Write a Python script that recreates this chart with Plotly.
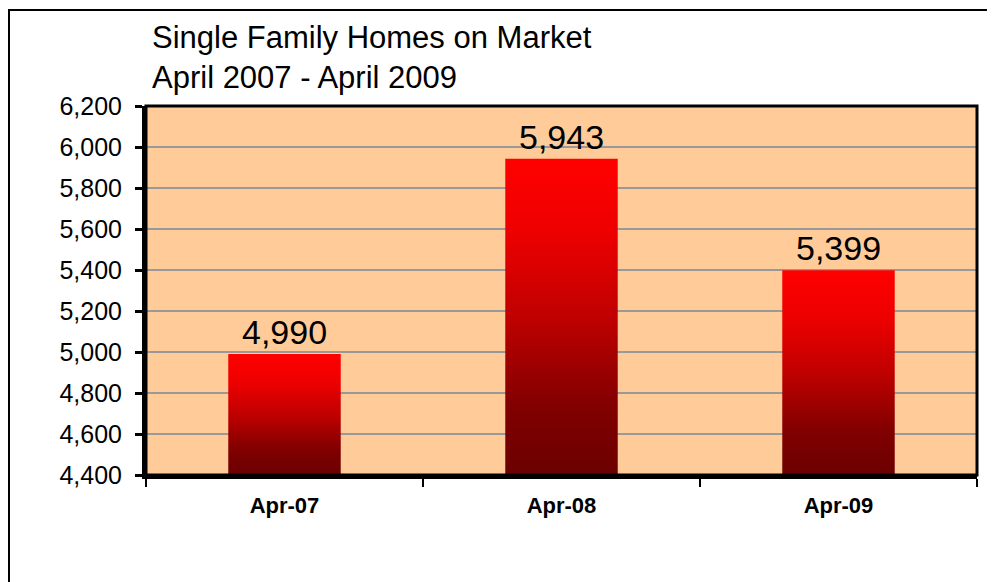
import plotly.graph_objects as go

# ---- data ----
categories = ["Apr-07", "Apr-08", "Apr-09"]
homes_on_market = [4990, 5943, 5399]
y_min, y_max, y_step = 4400, 6200, 200
title_lines = ["Single Family Homes on Market", "April 2007 - April 2009"]

# ---- layout constants (pixels; page body adds an 8px offset) ----
W, H = 987, 574
L, T, R, B = 138, 98, 18, 107
plot_w, plot_h = W - L - R, H - T - B
bar_w = 0.406
FONT = "Liberation Sans, Arial, sans-serif"

grad = [[0.0, "#6B0000"], [0.22, "#820000"], [0.5, "#C00000"],
        [0.77, "#EE0000"], [1.0, "#FF0000"]]

fig = go.Figure()
for i, (cat, v) in enumerate(zip(categories, homes_on_market)):
    x0, x1 = i - bar_w / 2, i + bar_w / 2
    fig.add_trace(go.Scatter(
        x=[x0, x1, x1, x0, x0], y=[y_min, y_min, v, v, y_min],
        mode="lines", line=dict(width=0), fill="toself",
        fillgradient=dict(type="vertical", colorscale=grad),
        hoverinfo="skip", showlegend=False, name=cat))
    fig.add_annotation(x=i, y=v, text=f"{v:,}", showarrow=False,
                       xanchor="center", yanchor="bottom", yshift=1,
                       font=dict(family=FONT, size=34, color="black"))

n = len(categories)
fig.update_xaxes(
    range=[-0.5, n - 0.5], tickmode="array",
    tickvals=list(range(n)), ticktext=categories,
    ticks="", showgrid=False, zeroline=False,
    showline=True, linecolor="black", linewidth=4,
    tickfont=dict(family=FONT, size=22, color="black", weight="bold"),
    ticklabelstandoff=8,
    minor=dict(tickvals=[k - 0.5 for k in range(n + 1)], ticks="outside",
               ticklen=8, tickwidth=2, tickcolor="black", showgrid=False),
)
fig.update_yaxes(
    range=[y_min, y_max], tickmode="linear", tick0=y_min, dtick=y_step,
    tickformat=",", ticks="outside", ticklen=7, tickwidth=3, tickcolor="black",
    showgrid=True, gridcolor="#999999", gridwidth=2, zeroline=False,
    showline=True, linecolor="black", linewidth=4,
    tickfont=dict(family=FONT, size=25, color="black"),
    ticklabelstandoff=8,
)

# plot-area frame (top and right edges)
fig.add_shape(type="rect", xref="paper", yref="paper", x0=0, x1=1, y0=0, y1=1,
              line=dict(color="black", width=3), layer="above")
# outer chart border
fig.add_shape(type="rect", xref="paper", yref="paper",
              x0=(1 - L) / plot_w, x1=(W + 20 - L) / plot_w,
              y0=-(B + 20) / plot_h, y1=1 + (T - 2) / plot_h,
              line=dict(color="black", width=2), layer="above")

fig.update_layout(
    width=W, height=H,
    margin=dict(l=L, r=R, t=T, b=B),
    paper_bgcolor="white", plot_bgcolor="#FFCC99",
    title=dict(text="<br>".join(title_lines), x=144 / W, xanchor="left",
               xref="container", yref="container", y=1 - 40 / H, yanchor="top",
               font=dict(family=FONT, size=31, color="black")),
    showlegend=False,
)

fig.write_html("out.html")
